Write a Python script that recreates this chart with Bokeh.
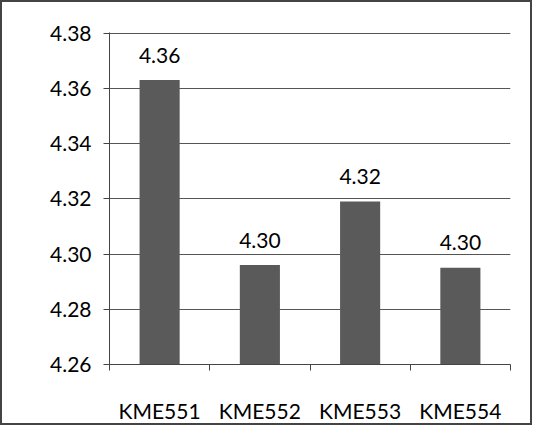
from bokeh.plotting import figure
from bokeh.models import Range1d, FixedTicker, PrintfTickFormatter, ColumnDataSource
from bokeh.core.properties import value
from bokeh.embed import file_html
from bokeh.resources import INLINE

categories = ["KME551", "KME552", "KME553", "KME554"]
values = [4.363, 4.296, 4.319, 4.295]
labels = ["4.36", "4.30", "4.32", "4.30"]
y_ticks = [4.26, 4.28, 4.30, 4.32, 4.34, 4.36, 4.38]

FONT = "Lato"
FS = "21px"

xs = [i + 0.5 for i in range(len(categories))]
src = ColumnDataSource(dict(x=xs, top=values, lab=labels))

p = figure(width=532, height=425, output_backend="svg", toolbar_location=None,
           x_range=Range1d(0, len(categories)), y_range=Range1d(y_ticks[0], y_ticks[-1] + 0.0002),
           min_border_left=107, min_border_right=24, min_border_top=30, min_border_bottom=63)
p.outline_line_color = None
p.background_fill_color = "white"
p.border_fill_color = "white"
p.styles = {"border": "2px solid #444"}

p.vbar(x="x", top="top", bottom=y_ticks[0], width=0.4, source=src,
       fill_color="#5a5a5a", line_color=None)
p.text(x="x", y="top", text="lab", source=src, text_align="center",
       text_baseline="alphabetic", y_offset=-25,
       text_font=value(FONT), text_font_size=FS, text_color="black")

# y axis
yax = p.yaxis[0]
yax.ticker = FixedTicker(ticks=y_ticks)
yax.formatter = PrintfTickFormatter(format="%.2f")
yax.major_tick_out = 6
yax.major_tick_in = 0
yax.minor_tick_out = 0
yax.minor_tick_in = 0
yax.major_label_standoff = 12
yax.major_label_text_font = FONT
yax.major_label_text_font_size = FS
yax.major_label_text_color = "black"
yax.axis_line_color = "#444"
yax.major_tick_line_color = "#444"

# x axis: labels at category centers, tick marks between categories
xax = p.xaxis[0]
xax.ticker = FixedTicker(ticks=xs, minor_ticks=list(range(len(categories) + 1)))
xax.major_label_overrides = {x: c for x, c in zip(xs, categories)}
xax.major_tick_out = 0
xax.major_tick_in = 0
xax.minor_tick_out = 6
xax.minor_tick_in = 0
xax.minor_tick_line_color = "#444"
xax.axis_line_color = "#444"
xax.major_label_standoff = 27
xax.major_label_text_font = FONT
xax.major_label_text_font_size = FS
xax.major_label_text_color = "black"

p.xgrid.visible = False
p.ygrid.ticker = FixedTicker(ticks=y_ticks)
p.ygrid.grid_line_color = "#555"
p.ygrid.grid_line_width = 1

open("out.html", "w").write(file_html(p, INLINE))
